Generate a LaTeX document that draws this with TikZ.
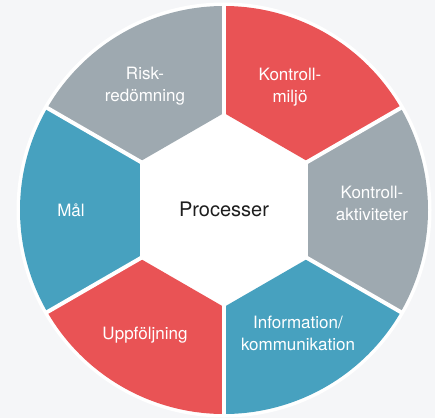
\documentclass[tikz,border=0pt]{standalone}
\usepackage{fontspec}
\setmainfont{TeX Gyre Heros}
\definecolor{bggray}{RGB}{245, 246, 248}
\definecolor{riskgray}{RGB}{158, 169, 176}
\definecolor{ctrlred}{RGB}{233, 83, 85}
\definecolor{infoblue}{RGB}{71, 161, 191}
\definecolor{darktext}{RGB}{30, 30, 30}
\usepackage{tikz}

\begin{document}
\begin{tikzpicture}[x=1pt, y=1pt,
    seglabel/.style={text=white, align=center, font=\fontsize{17}{22}\selectfont, inner sep=0pt}]
  % ===== Background =====
  \useasboundingbox (-224, -208) rectangle (211, 210);
  \fill[bggray] (-224, -208) rectangle (211, 210);
  \fill[white] (0, 0) circle[radius=207.5];

  % ===== Segments =====
  \foreach \ang/\col in {120/riskgray, 60/ctrlred, 0/riskgray, -60/infoblue, -120/ctrlred, 180/infoblue}{
    \fill[\col] (\ang-30:97) -- (\ang-30:204) arc[start angle=\ang-30, end angle=\ang+30, radius=204] -- (\ang+30:97) -- cycle;
  }

  % Gaps
  \foreach \ang in {90, 30, -30, -90, -150, 150}
    \draw[white, line width=4pt] (0, 0) -- (\ang:206);

  % ===== Labels =====
  \node[text=darktext, font=\fontsize{20}{24}\selectfont] (proc) at (0, 1) {Processer};
  \node[seglabel] (risk) at (-79, 124) {Risk-\\redömning};
  \node[seglabel] (miljo) at (66, 123) {Kontroll-\\miljö};
  \node[seglabel] (aktiv) at (148, 7) {Kontroll-\\aktiviteter};
  \node[seglabel] (info) at (74, -123) {Information/\\kommunikation};
  \node[seglabel] (uppf) at (-79, -125) {Uppföljning};
  \node[seglabel] (mal) at (-153, 0) {Mål};
\end{tikzpicture}
\end{document}
